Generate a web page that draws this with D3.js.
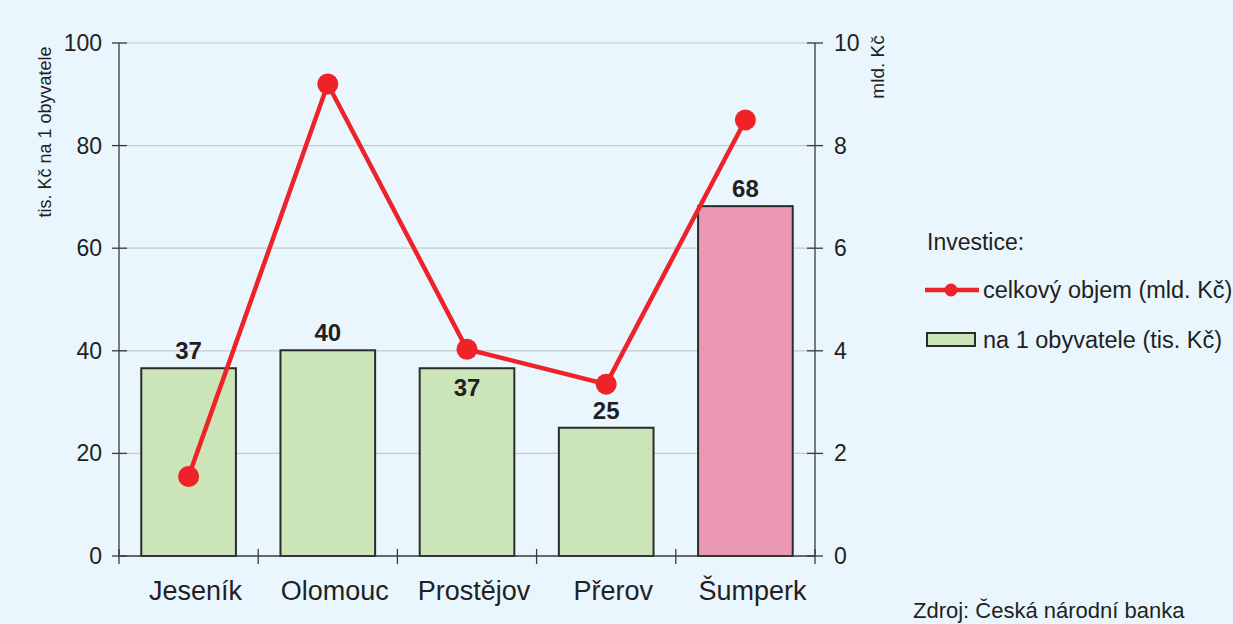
<!DOCTYPE html>
<head>
  <meta charset="utf-8">
  <script src="https://d3js.org/d3.v7.min.js"></script>
  <style>
    body { margin: 0; background: #e9f6fe; }
    text { font-family: "Liberation Sans", Arial, sans-serif; fill: #231f20; }
  </style>
</head>
<body>
<div id="container"></div>
<script>
  // data
  const regions = ['Jeseník', 'Olomouc', 'Prostějov', 'Přerov', 'Šumperk'];
  const perCapita = [36.6, 40.1, 36.6, 25.0, 68.2];      // tis. Kč na 1 obyvatele
  const perCapitaLabels = ['37', '40', '37', '25', '68'];
  const totalVolume = [1.55, 9.2, 4.03, 3.35, 8.5];      // mld. Kč
  const leftTicks = [0, 20, 40, 60, 80, 100];
  const rightTicks = [0, 2, 4, 6, 8, 10];

  const width = 1233, height = 624;
  const x0 = 119, x1 = 815, yTop = 43, yBottom = 556;

  const svg = d3.select('#container').append('svg')
    .attr('width', width)
    .attr('height', height);

  svg.append('rect').attr('width', width).attr('height', height).attr('fill', '#e9f6fe');

  const xScale = d3.scaleBand().domain(regions).range([x0, x1]).paddingInner(0.32).paddingOuter(0.16);
  const yLeft = d3.scaleLinear().domain([0, 100]).range([yBottom, yTop]);
  const yRight = d3.scaleLinear().domain([0, 10]).range([yBottom, yTop]);

  // grid
  svg.append('g').selectAll('line')
    .data(leftTicks.filter(d => d > 0))
    .enter().append('line')
      .attr('x1', x0).attr('x2', x1)
      .attr('y1', d => yLeft(d)).attr('y2', d => yLeft(d))
      .attr('stroke', '#c9c9c9').attr('stroke-width', 1.2);

  // left axis
  const leftAxis = svg.append('g');
  leftAxis.append('line').attr('x1', x0).attr('x2', x0).attr('y1', yTop).attr('y2', yBottom)
    .attr('stroke', '#3a3a3a').attr('stroke-width', 1.3);
  leftAxis.selectAll('.tk').data(leftTicks).enter().append('line')
    .attr('x1', x0 - 7).attr('x2', x0 + 8)
    .attr('y1', d => yLeft(d)).attr('y2', d => yLeft(d))
    .attr('stroke', '#3a3a3a').attr('stroke-width', 1.3);
  leftAxis.selectAll('text').data(leftTicks).enter().append('text')
    .attr('x', 102).attr('y', d => yLeft(d) + 8)
    .attr('text-anchor', 'end').style('font-size', '23px')
    .text(d => d);

  // right axis
  const rightAxis = svg.append('g');
  rightAxis.append('line').attr('x1', x1).attr('x2', x1).attr('y1', yTop).attr('y2', yBottom)
    .attr('stroke', '#3a3a3a').attr('stroke-width', 1.3);
  rightAxis.selectAll('.tk').data(rightTicks).enter().append('line')
    .attr('x1', x1 - 8).attr('x2', x1 + 8)
    .attr('y1', d => yRight(d)).attr('y2', d => yRight(d))
    .attr('stroke', '#3a3a3a').attr('stroke-width', 1.3);
  rightAxis.selectAll('text').data(rightTicks).enter().append('text')
    .attr('x', 834).attr('y', d => yRight(d) + 8)
    .attr('text-anchor', 'start').style('font-size', '23px')
    .text(d => d);

  // axis titles
  svg.append('text')
    .attr('transform', 'translate(51,132) rotate(-90)')
    .attr('text-anchor', 'middle').style('font-size', '18px')
    .text('tis. Kč na 1 obyvatele');
  svg.append('text')
    .attr('transform', 'translate(884,67) rotate(-90)')
    .attr('text-anchor', 'middle').style('font-size', '19px')
    .text('mld. Kč');

  // bars
  const barColors = ['#cbe4b8', '#cbe4b8', '#cbe4b8', '#cbe4b8', '#ea97b4'];
  svg.append('g').selectAll('rect')
    .data(regions)
    .enter().append('rect')
      .attr('x', d => xScale(d))
      .attr('y', (d, i) => yLeft(perCapita[i]))
      .attr('width', xScale.bandwidth())
      .attr('height', (d, i) => yBottom - yLeft(perCapita[i]))
      .attr('fill', (d, i) => barColors[i])
      .attr('stroke', '#2b2b2b').attr('stroke-width', 2);

  // x axis baseline
  const xAxis = svg.append('g');
  xAxis.append('line').attr('x1', x0).attr('x2', x1).attr('y1', yBottom).attr('y2', yBottom)
    .attr('stroke', '#3a3a3a').attr('stroke-width', 1.3);
  const bandStep = xScale.step();
  xAxis.selectAll('.tk').data(d3.range(regions.length + 1)).enter().append('line')
    .attr('x1', i => x0 + i * bandStep).attr('x2', i => x0 + i * bandStep)
    .attr('y1', yBottom - 7).attr('y2', yBottom + 8)
    .attr('stroke', '#3a3a3a').attr('stroke-width', 1.3);
  // category labels sit slightly right of the bar centres
  xAxis.selectAll('text').data(regions).enter().append('text')
    .attr('x', d => xScale(d) + xScale.bandwidth() / 2 + 7)
    .attr('y', 600)
    .attr('text-anchor', 'middle').style('font-size', '27px')
    .text(d => d);

  // bar value labels (Prostějov sits inside the bar)
  svg.append('g').selectAll('text')
    .data(regions)
    .enter().append('text')
      .attr('x', d => xScale(d) + xScale.bandwidth() / 2)
      .attr('y', (d, i) => i === 2 ? yLeft(perCapita[i]) + 28 : yLeft(perCapita[i]) - 9)
      .attr('text-anchor', 'middle')
      .style('font-size', '24px').style('font-weight', 'bold')
      .text((d, i) => perCapitaLabels[i]);

  // line
  const line = d3.line()
    .x((d, i) => xScale(regions[i]) + xScale.bandwidth() / 2)
    .y(d => yRight(d));
  svg.append('path')
    .datum(totalVolume)
    .attr('d', line)
    .attr('fill', 'none').attr('stroke', '#ee2229').attr('stroke-width', 4.5);
  svg.append('g').selectAll('circle')
    .data(totalVolume)
    .enter().append('circle')
      .attr('cx', (d, i) => xScale(regions[i]) + xScale.bandwidth() / 2)
      .attr('cy', d => yRight(d))
      .attr('r', 10.5)
      .attr('fill', '#ee2229');

  // legend
  const legend = svg.append('g');
  legend.append('text').attr('x', 927).attr('y', 250).style('font-size', '23px').text('Investice:');
  legend.append('line').attr('x1', 925).attr('x2', 979).attr('y1', 290).attr('y2', 290)
    .attr('stroke', '#ee2229').attr('stroke-width', 4.5);
  legend.append('circle').attr('cx', 951).attr('cy', 290).attr('r', 6.5).attr('fill', '#ee2229');
  legend.append('text').attr('x', 983).attr('y', 298).style('font-size', '23.5px').text('celkový objem (mld. Kč)');
  legend.append('rect').attr('x', 927).attr('y', 333).attr('width', 48).attr('height', 13)
    .attr('fill', '#cbe4b8').attr('stroke', '#2b2b2b').attr('stroke-width', 2);
  legend.append('text').attr('x', 983).attr('y', 348).style('font-size', '23.5px').text('na 1 obyvatele (tis. Kč)');

  // source
  svg.append('text').attr('x', 913).attr('y', 618).style('font-size', '22px').text('Zdroj: Česká národní banka');
</script>
</body>
